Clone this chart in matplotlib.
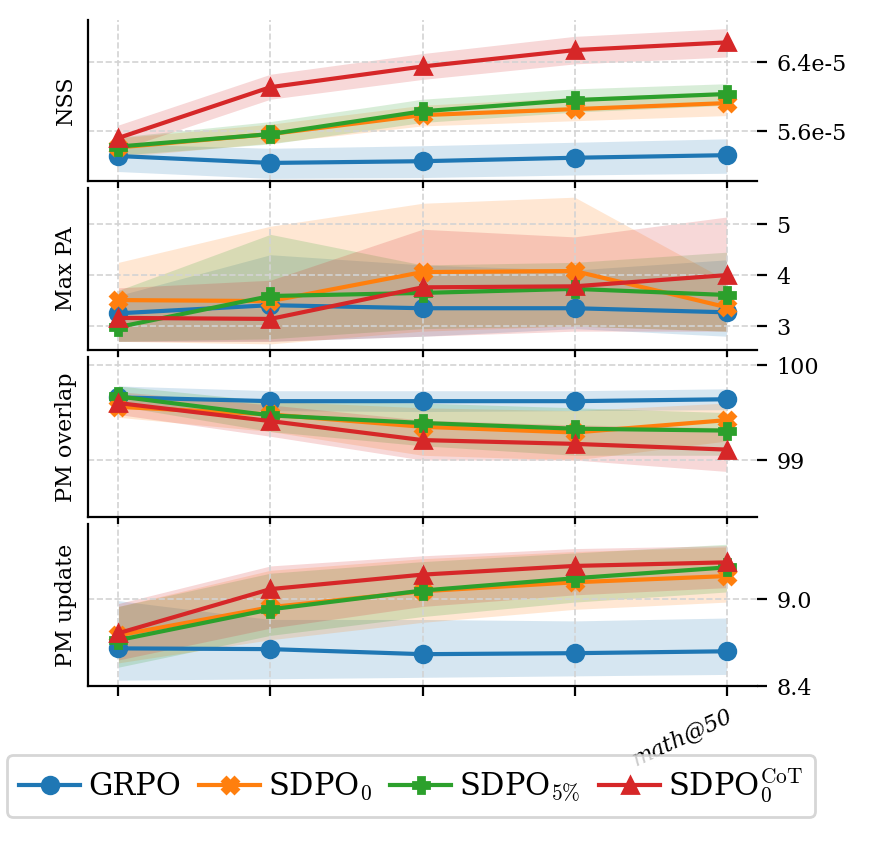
import numpy as np
import matplotlib
matplotlib.use("Agg")
import matplotlib.pyplot as plt

plt.rcParams['font.family'] = 'DejaVu Serif'
plt.rcParams['mathtext.fontset'] = 'cm'
plt.rcParams['font.size'] = 8

x = np.arange(5)
methods = ["GRPO", r"SDPO$_0$", r"SDPO$_{5\%}$", r"SDPO$_0^{\mathrm{CoT}}$"]
colors = ["#1f77b4", "#ff7f0e", "#2ca02c", "#d62728"]
markers = ["o", "X", "P", "^"]

# NSS (units of 1e-5)
nss = [[5.31, 5.23, 5.25, 5.29, 5.32],
       [5.41, 5.565, 5.785, 5.855, 5.925],
       [5.42, 5.565, 5.83, 5.96, 6.03],
       [5.52, 6.11, 6.35, 6.54, 6.63]]
nss_lo = [[5.13, 5.05, 5.06, 5.09, 5.11],
          [5.30, 5.46, 5.66, 5.72, 5.78],
          [5.32, 5.45, 5.70, 5.82, 5.90],
          [5.38, 5.97, 6.20, 6.38, 6.46]]
nss_hi = [[5.45, 5.40, 5.43, 5.47, 5.51],
          [5.52, 5.68, 5.90, 5.99, 6.06],
          [5.53, 5.71, 5.97, 6.09, 6.15],
          [5.67, 6.26, 6.50, 6.70, 6.79]]

# Max PA
pa = [[3.25, 3.41, 3.35, 3.35, 3.27],
      [3.51, 3.49, 4.06, 4.08, 3.37],
      [2.98, 3.59, 3.65, 3.73, 3.61],
      [3.16, 3.14, 3.76, 3.78, 4.00]]
pa_lo = [[2.70, 2.70, 2.80, 2.95, 2.80],
         [2.70, 2.65, 2.90, 3.00, 2.90],
         [2.70, 2.75, 2.95, 3.00, 2.90],
         [2.70, 2.70, 2.80, 2.90, 2.90]]
pa_hi = [[3.60, 4.40, 4.20, 4.10, 4.30],
         [4.25, 4.96, 5.41, 5.53, 3.90],
         [3.70, 4.80, 4.20, 4.25, 4.45],
         [3.75, 3.90, 4.90, 4.75, 5.14]]

# PM overlap
ov = [[99.66, 99.62, 99.62, 99.62, 99.64],
      [99.56, 99.48, 99.35, 99.29, 99.42],
      [99.67, 99.47, 99.39, 99.33, 99.31],
      [99.60, 99.41, 99.21, 99.17, 99.11]]
ov_lo = [[99.55, 99.52, 99.51, 99.52, 99.53],
         [99.45, 99.30, 99.05, 99.00, 99.20],
         [99.57, 99.30, 99.15, 99.05, 99.05],
         [99.48, 99.25, 99.00, 99.00, 98.88]]
ov_hi = [[99.78, 99.73, 99.73, 99.73, 99.75],
         [99.67, 99.62, 99.55, 99.52, 99.60],
         [99.78, 99.62, 99.60, 99.55, 99.50],
         [99.72, 99.58, 99.42, 99.37, 99.34]]

# PM update
up = [[8.66, 8.655, 8.62, 8.627, 8.64],
      [8.75, 8.945, 9.055, 9.117, 9.16],
      [8.717, 8.93, 9.06, 9.145, 9.22],
      [8.765, 9.07, 9.17, 9.23, 9.255]]
up_lo = [[8.44, 8.45, 8.46, 8.47, 8.48],
         [8.56, 8.72, 8.84, 8.93, 8.98],
         [8.53, 8.75, 8.88, 8.98, 9.05],
         [8.58, 8.80, 8.95, 9.03, 9.08]]
up_hi = [[8.99, 8.86, 8.86, 8.85, 8.87],
         [8.95, 9.20, 9.28, 9.33, 9.36],
         [8.95, 9.18, 9.26, 9.32, 9.38],
         [8.97, 9.23, 9.30, 9.35, 9.37]]

panels = [("NSS", nss, nss_lo, nss_hi, (5.02, 6.89), [5.6, 6.4], ["5.6e-5", "6.4e-5"]),
          ("Max PA", pa, pa_lo, pa_hi, (2.53, 5.71), [3, 4, 5], ["3", "4", "5"]),
          ("PM overlap", ov, ov_lo, ov_hi, (98.4, 100.085), [99, 100], ["99", "100"]),
          ("PM update", up, up_lo, up_hi, (8.4, 9.52), [8.4, 9.0], ["8.4", "9.0"])]

fig = plt.figure(figsize=(877 / 200, 841 / 200), dpi=200)
tops = [20, 188, 357, 524]
bots = [181, 350, 517, 686]
W, H = 877, 841
for i, (name, vals, lo, hi, ylim, ticks, tlabels) in enumerate(panels):
    ax = fig.add_axes([88 / W, 1 - bots[i] / H, (757 - 88) / W, (bots[i] - tops[i]) / H])
    for j in range(4):
        ax.fill_between(x, lo[j], hi[j], color=colors[j], alpha=0.18, lw=0)
        ax.plot(x, vals[j], color=colors[j], marker=markers[j], ms=6, lw=1.5, label=methods[j])
    ax.set_xlim(-0.2, 4.2)
    ax.set_ylim(*ylim)
    ax.set_yticks(ticks)
    ax.set_yticklabels(tlabels)
    ax.yaxis.tick_right()
    ax.set_ylabel(name)
    ax.spines['top'].set_visible(False)
    ax.spines['right'].set_visible(False)
    ax.grid(True, ls='--', color='lightgray', lw=0.6)
    ax.set_xticks(x)
    if i < 3:
        ax.set_xticklabels([])
    else:
        ax.set_xticklabels(["", "", "", "", "math@50"], rotation=25, ha='right',
                           rotation_mode='anchor', style='italic')
        handles, labels = ax.get_legend_handles_labels()

fig.legend(handles, labels, loc='center', bbox_to_anchor=(411 / W, 1 - 786 / H), ncol=4,
           fontsize=11, handlelength=2.0, columnspacing=0.6, handletextpad=0.25)
fig.savefig("out.png", dpi=200)
